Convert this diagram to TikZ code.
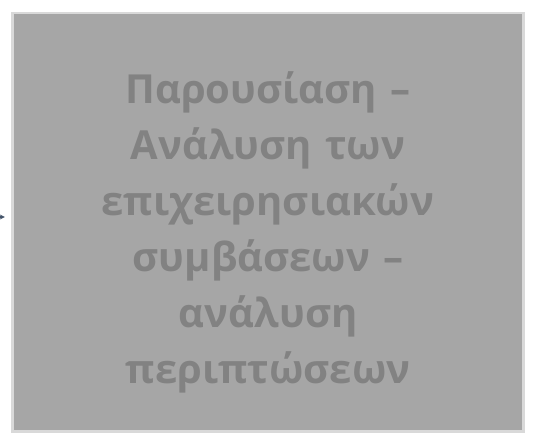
\documentclass[tikz,border=0pt]{standalone}
\usepackage{fontspec}
\setmainfont{Open Sans}
\usetikzlibrary{shadows}

\definecolor{boxgray}{HTML}{A6A6A6}
\definecolor{textgray}{HTML}{828282}
\definecolor{linkblue}{HTML}{44546A}

\begin{document}
\begin{tikzpicture}[x=1pt, y=-1pt]
        \tikzstyle{every node}=[font=\fontsize{40}{56}\selectfont\bfseries]
        \tikzstyle{topicbox}=[fill=boxgray, draw=none, minimum width=508pt, minimum height=416pt,
            general shadow={fill=gray!30, shadow scale=1.012, shadow xshift=0pt, shadow yshift=0pt}]
        \tikzstyle{title}=[text width=400pt, align=center, text=textgray]
        \tikzstyle{link}=[->, >=stealth, linkblue, line width=1.2pt]

        \useasboundingbox (0, 0) rectangle (538, 447);

        \node[topicbox] (topic) at (268, 222) {};
        \node[title] (label) at (268, 232) {Παρουσίαση –\\ Ανάλυση των\\ επιχειρησιακών\\ συμβάσεων –\\ ανάλυση\\ περιπτώσεων};

        \coordinate (src) at (-30, 217);
        \draw[link, shorten >=9pt] (src) -- (topic.west |- src);

    \end{tikzpicture}
\end{document}
